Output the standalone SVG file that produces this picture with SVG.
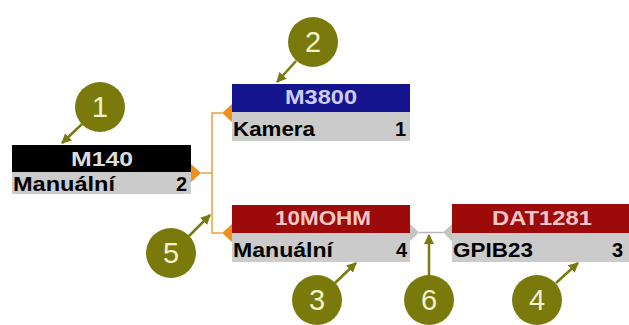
<svg xmlns="http://www.w3.org/2000/svg" width="629" height="325" viewBox="0 0 629 325">
<style>
.hd{font-family:"Liberation Sans",Arial,sans-serif;font-weight:bold;font-size:20px;text-anchor:middle}
.rw{font-family:"Liberation Sans",Arial,sans-serif;font-weight:bold;font-size:20px;fill:#000}
.row{fill:#cbcbcb}
.num{font-family:"Liberation Sans",Arial,sans-serif;font-size:29px;fill:#f2f2cc;text-anchor:middle}
.dot{fill:#7a7a0c}
.call{stroke:#7a7a0c;stroke-width:2.5;fill:none;marker-end:url(#ah)}
.oline{stroke:#e8a040;stroke-width:1.5;fill:none}
.otri{fill:#f0901c}
.gline{stroke:#b8b8b8;stroke-width:1.5;fill:none}
.gtri{fill:#c4c4c4}
</style>
<defs>
<marker id="ah" viewBox="0 0 10 10" refX="9" refY="5" markerWidth="4" markerHeight="4" orient="auto" markerUnits="strokeWidth">
<path d="M0,0 L10,5 L0,10 z" fill="#7a7a0c"/>
</marker>
</defs>
<rect width="629" height="325" fill="#ffffff"/>

<g id="connectors">
<polygon class="otri" points="191,164 191,182 201,173"/>
<polyline class="oline" points="201,173 212,173"/>
<polyline class="oline" points="222,113 212,113 212,233 222,233"/>
<polygon class="otri" points="222,113 232,104 232,122"/>
<polygon class="otri" points="222,233 232,224 232,242"/>
<polygon class="gtri" points="410,224 410,241 419,232.5"/>
<polyline class="gline" points="419,232.5 443,232.5"/>
<polygon class="gtri" points="452,224 452,241 443,232.5"/>
</g>

<g id="node-M140">
<rect x="12" y="145" width="179" height="27" fill="#000000"/>
<rect class="row" x="12" y="172" width="179" height="22"/>
<text class="hd" x="102" y="166" fill="#dcdcdc" textLength="62" lengthAdjust="spacingAndGlyphs">M140</text>
<text class="rw" x="13" y="191" textLength="102" lengthAdjust="spacingAndGlyphs">Manuální</text>
<text class="rw" x="187" y="191" text-anchor="end">2</text>
</g>

<g id="node-M3800">
<rect x="232" y="84" width="178" height="28" fill="#14148e"/>
<rect class="row" x="232" y="112" width="178" height="29"/>
<text class="hd" x="321" y="104" fill="#cccef8" textLength="72" lengthAdjust="spacingAndGlyphs">M3800</text>
<text class="rw" x="233" y="136" textLength="82" lengthAdjust="spacingAndGlyphs">Kamera</text>
<text class="rw" x="406" y="136" text-anchor="end">1</text>
</g>

<g id="node-10MOHM">
<rect x="232" y="205" width="178" height="28" fill="#9c0a0a"/>
<rect class="row" x="232" y="233" width="178" height="29"/>
<text class="hd" x="323" y="225" fill="#f2c6c6" textLength="96" lengthAdjust="spacingAndGlyphs">10MOHM</text>
<text class="rw" x="233" y="257" textLength="100" lengthAdjust="spacingAndGlyphs">Manuální</text>
<text class="rw" x="407" y="257" text-anchor="end">4</text>
</g>

<g id="node-DAT1281">
<rect x="452" y="204" width="177" height="29" fill="#9c0a0a"/>
<rect class="row" x="452" y="233" width="177" height="29"/>
<text class="hd" x="542" y="225" fill="#f2c6c6" textLength="100" lengthAdjust="spacingAndGlyphs">DAT1281</text>
<text class="rw" x="453" y="257" textLength="80" lengthAdjust="spacingAndGlyphs">GPIB23</text>
<text class="rw" x="623" y="257" text-anchor="end">3</text>
</g>

<g id="callout-1">
<line class="call" x1="82" y1="124" x2="62" y2="143"/>
<circle class="dot" cx="100" cy="107" r="25"/>
<text class="num" x="100" y="117">1</text>
</g>
<g id="callout-2">
<line class="call" x1="296" y1="61" x2="277" y2="82"/>
<circle class="dot" cx="313" cy="42" r="25"/>
<text class="num" x="313" y="52">2</text>
</g>
<g id="callout-5">
<line class="call" x1="189" y1="236" x2="210" y2="215"/>
<circle class="dot" cx="171" cy="253" r="25"/>
<text class="num" x="171" y="263">5</text>
</g>
<g id="callout-3">
<line class="call" x1="335" y1="283" x2="356" y2="263"/>
<circle class="dot" cx="317" cy="300" r="25"/>
<text class="num" x="317" y="310">3</text>
</g>
<g id="callout-6">
<line class="call" x1="429" y1="276" x2="429" y2="235"/>
<circle class="dot" cx="429" cy="300" r="25"/>
<text class="num" x="429" y="310">6</text>
</g>
<g id="callout-4">
<line class="call" x1="556" y1="283" x2="578" y2="263"/>
<circle class="dot" cx="537" cy="300" r="25"/>
<text class="num" x="537" y="310">4</text>
</g>
</svg>
